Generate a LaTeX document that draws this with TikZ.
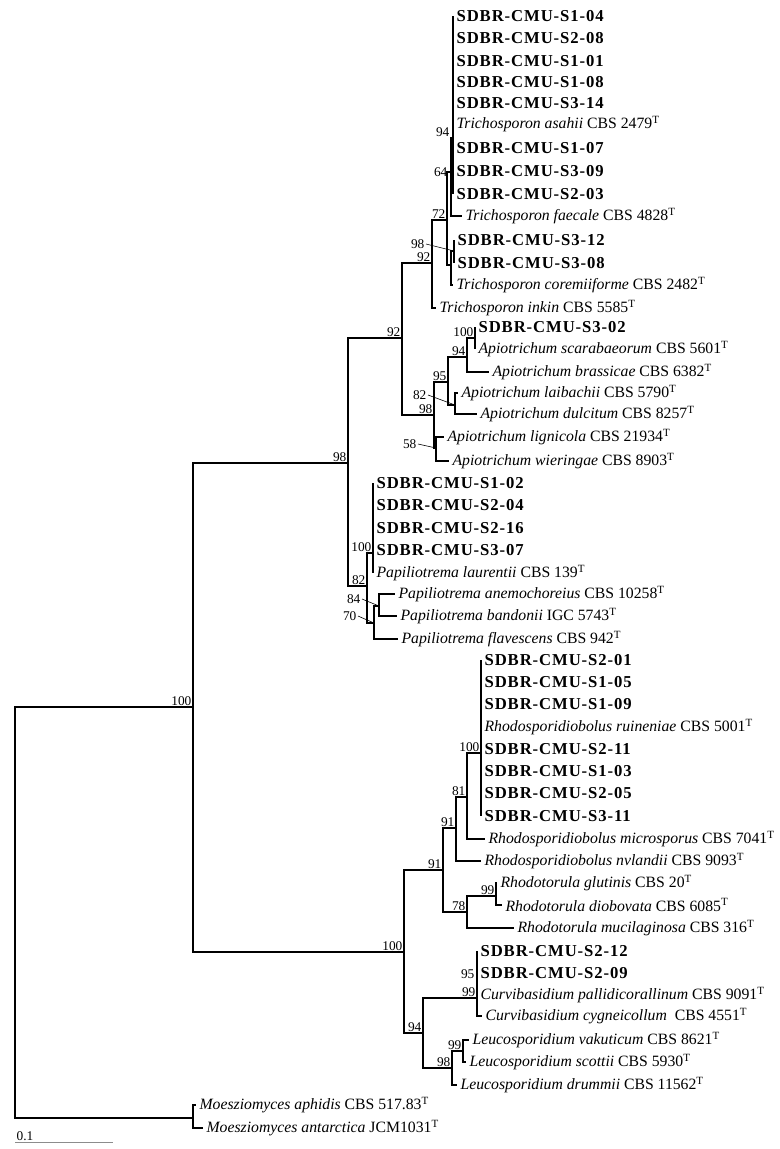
\documentclass[tikz,border=0pt]{standalone}
\usepackage{fontspec}
\setmainfont{Liberation Serif}
\newfontfamily\isofont[LetterSpace=5.5]{Liberation Serif}
\def\sp#1#2{\textit{#1} #2\textsuperscript{T}}
\def\iso#1{{\isofont\fontsize{12.5}{13}\selectfont\bfseries SDBR-CMU-#1}}

\begin{document}
\begin{tikzpicture}[x=0.75pt,y=-0.75pt,font=\fontsize{11.8}{13}\selectfont,
  br/.style={line width=0.9pt},
  thk/.style={line width=1.8pt},
  lf/.style={anchor=west,inner sep=2.5pt},
  bs/.style={font=\fontsize{10}{11}\selectfont,inner sep=1pt,anchor=south east},
  ld/.style={line width=0.45pt}]
  \useasboundingbox (0,0) rectangle (780,1149);

  % internal nodes
  \coordinate (r) at (15,912);
  \coordinate (ing) at (193,707);
  \coordinate (moe) at (193,1118);
  \coordinate (n98a) at (348,463);
  \coordinate (n92a) at (402,338);
  \coordinate (n92b) at (432,263);
  \coordinate (n72) at (447,220);
  \coordinate (n64) at (451,172);
  \coordinate (n94a) at (453,138);
  \coordinate (n3) at (451,265);
  \coordinate (n98c) at (454,251);
  \coordinate (n98b) at (434,415);
  \coordinate (n95) at (448,382);
  \coordinate (n94b) at (467,357);
  \coordinate (n100b) at (475,338);
  \coordinate (n82b) at (455,405);
  \coordinate (n58) at (436,448);
  \coordinate (n82a) at (367,586);
  \coordinate (n100a) at (373,553);
  \coordinate (n70) at (374,623);
  \coordinate (n84) at (379,606);
  \coordinate (n100c) at (404,952);
  \coordinate (n91a) at (443,870);
  \coordinate (n91b) at (456,828);
  \coordinate (n81) at (467,797);
  \coordinate (n100d) at (481,753);
  \coordinate (n78) at (467,912);
  \coordinate (n99a) at (496,896);
  \coordinate (n94c) at (423,1033);
  \coordinate (n99b) at (477,998);
  \coordinate (n98d) at (452,1068);
  \coordinate (n99c) at (463,1051);

  % Trichosporon
  \node[lf] (t1) at (453,16) {\iso{S1-04}};
  \node[lf] (t2) at (453,38) {\iso{S2-08}};
  \node[lf] (t3) at (453,61) {\iso{S1-01}};
  \node[lf] (t4) at (453,82) {\iso{S1-08}};
  \node[lf] (t5) at (453,103) {\iso{S3-14}};
  \node[lf] (t6) at (453,124) {\sp{Trichosporon asahii}{CBS 2479}};
  \node[lf] (t7) at (453,148) {\iso{S1-07}};
  \node[lf] (t8) at (453,171) {\iso{S3-09}};
  \node[lf] (t9) at (453,194) {\iso{S2-03}};
  \node[lf] (tfae) at (462,216) {\sp{Trichosporon faecale}{CBS 4828}};
  \node[lf] (t10) at (454,240) {\iso{S3-12}};
  \node[lf] (t11) at (454,263) {\iso{S3-08}};
  \node[lf] (tcor) at (453,285) {\sp{Trichosporon coremiiforme}{CBS 2482}};
  \node[lf] (tink) at (436,308) {\sp{Trichosporon inkin}{CBS 5585}};
  % Apiotrichum
  \node[lf] (a1) at (475,327) {\iso{S3-02}};
  \node[lf] (asca) at (475,349) {\sp{Apiotrichum scarabaeorum}{CBS 5601}};
  \node[lf] (abra) at (489,372) {\sp{Apiotrichum brassicae}{CBS 6382}};
  \node[lf] (alai) at (458,393) {\sp{Apiotrichum laibachii}{CBS 5790}};
  \node[lf] (adul) at (477,414) {\sp{Apiotrichum dulcitum}{CBS 8257}};
  \node[lf] (alig) at (444,437) {\sp{Apiotrichum lignicola}{CBS 21934}};
  \node[lf] (awie) at (449,461) {\sp{Apiotrichum wieringae}{CBS 8903}};
  % Papiliotrema
  \node[lf] (p1) at (373,483) {\iso{S1-02}};
  \node[lf] (p2) at (373,505) {\iso{S2-04}};
  \node[lf] (p3) at (373,528) {\iso{S2-16}};
  \node[lf] (p4) at (373,550) {\iso{S3-07}};
  \node[lf] (plau) at (373,573) {\sp{Papiliotrema laurentii}{CBS 139}};
  \node[lf] (pane) at (395,594) {\sp{Papiliotrema anemochoreius}{CBS 10258}};
  \node[lf] (pban) at (397,616) {\sp{Papiliotrema bandonii}{IGC 5743}};
  \node[lf] (pfla) at (398,639) {\sp{Papiliotrema flavescens}{CBS 942}};
  % Rhodosporidiobolus
  \node[lf] (r1) at (481,660) {\iso{S2-01}};
  \node[lf] (r2) at (481,682) {\iso{S1-05}};
  \node[lf] (r3) at (481,704) {\iso{S1-09}};
  \node[lf] (rrui) at (481,727) {\sp{Rhodosporidiobolus ruineniae}{CBS 5001}};
  \node[lf] (r4) at (481,749) {\iso{S2-11}};
  \node[lf] (r5) at (481,771) {\iso{S1-03}};
  \node[lf] (r6) at (481,793) {\iso{S2-05}};
  \node[lf] (r7) at (481,816) {\iso{S3-11}};
  \node[lf] (rmic) at (485,839) {\sp{Rhodosporidiobolus microsporus}{CBS 7041}};
  \node[lf] (rnyl) at (481,861) {\sp{Rhodosporidiobolus nvlandii}{CBS 9093}};
  % Rhodotorula
  \node[lf] (rglu) at (497,883) {\sp{Rhodotorula glutinis}{CBS 20}};
  \node[lf] (rdio) at (502,905) {\sp{Rhodotorula diobovata}{CBS 6085}};
  \node[lf] (rmuc) at (514,928) {\sp{Rhodotorula mucilaginosa}{CBS 316}};
  % Curvibasidium
  \node[lf] (c1) at (477,951) {\iso{S2-12}};
  \node[lf] (c2) at (477,973) {\iso{S2-09}};
  \node[lf] (cpal) at (477,995) {\sp{Curvibasidium pallidicorallinum}{CBS 9091}};
  \node[lf] (ccyg) at (482,1016) {\textit{Curvibasidium cygneicollum}\ \ CBS 4551\textsuperscript{T}};
  % Leucosporidium
  \node[lf] (lvak) at (469,1040) {\sp{Leucosporidium vakuticum}{CBS 8621}};
  \node[lf] (lsco) at (466,1062) {\sp{Leucosporidium scottii}{CBS 5930}};
  \node[lf] (ldru) at (457,1085) {\sp{Leucosporidium drummii}{CBS 11562}};
  % outgroup
  \node[lf] (maph) at (196,1105) {\sp{Moesziomyces aphidis}{CBS 517.83}};
  \node[lf] (mant) at (203,1128) {\sp{Moesziomyces antarctica}{JCM1031}};

  % branches
  \draw[br] (r) |- (ing) (r) |- (moe);
  \draw[br] (moe) |- (maph.west) (moe) |- (mant.west);
  \draw[br] (ing) |- (n98a) (ing) |- (n100c);
  \draw[br] (n98a) |- (n92a) (n98a) |- (n82a);
  \draw[br] (n92a) |- (n92b) (n92a) |- (n98b);
  \draw[br] (n92b) |- (n72) (n92b) |- (tink.west);
  \draw[br] (n72) |- (n64) (n72) |- (n3);
  \draw[br] (n64) |- (n94a) (n64) |- (tfae.west);
  \draw[br] (n94a) |- (t1.west) (n94a) |- (t9.west);
  \draw[br] (n3) |- (n98c) (n3) |- (tcor.west);
  \draw[br] (n98c) |- (t10.west) (n98c) |- (t11.west);
  \draw[br] (n98b) |- (n95) (n98b) |- (n58);
  \draw[br] (n95) |- (n94b) (n95) |- (n82b);
  \draw[br] (n94b) |- (n100b) (n94b) |- (abra.west);
  \draw[br] (n100b) |- (a1.west) (n100b) |- (asca.west);
  \draw[br] (n82b) |- (alai.west) (n82b) |- (adul.west);
  \draw[br] (n58) |- (alig.west) (n58) |- (awie.west);
  \draw[br] (n82a) |- (n100a) (n82a) |- (n70);
  \draw[br] (n100a) |- (p1.west) (n100a) |- (plau.west);
  \draw[br] (n70) |- (n84) (n70) |- (pfla.west);
  \draw[br] (n84) |- (pane.west) (n84) |- (pban.west);
  \draw[br] (n100c) |- (n91a) (n100c) |- (n94c);
  \draw[br] (n91a) |- (n91b) (n91a) |- (n78);
  \draw[br] (n91b) |- (n81) (n91b) |- (rnyl.west);
  \draw[br] (n81) |- (n100d) (n81) |- (rmic.west);
  \draw[br] (n100d) |- (r1.west) (n100d) |- (r7.west);
  \draw[br] (n78) |- (n99a) (n78) |- (rmuc.west);
  \draw[br] (n99a) |- (rglu.west) (n99a) |- (rdio.west);
  \draw[br] (n94c) |- (n99b) (n94c) |- (n98d);
  \draw[br] (n99b) |- (c1.west) (n99b) |- (ccyg.west);
  \draw[br] (n98d) |- (n99c) (n98d) |- (ldru.west);
  \draw[br] (n99c) |- (lvak.west) (n99c) |- (lsco.west);
  \draw[thk] (453,140) -- (453,194);
  \draw[thk] (436,437) -- (436,450);
  \draw[thk] (477,980) -- (477,995);

  % bootstrap values
  \node[bs] at (ing) {100};
  \node[bs] at (n98a) {98};
  \node[bs] at (n92a) {92};
  \node[bs] at (n92b) {92};
  \node[bs] at (n72) {72};
  \node[bs] at (449,178) {64};
  \node[bs] at (451,138) {94};
  \node[bs] at (n98b) {98};
  \node[bs] at (n95) {95};
  \node[bs] at (n94b) {94};
  \node[bs] at (n100b) {100};
  \node[bs] at (n100a) {100};
  \node[bs] at (n82a) {82};
  \node[bs] at (n100c) {100};
  \node[bs] at (n91a) {91};
  \node[bs] at (n91b) {91};
  \node[bs] at (n81) {81};
  \node[bs] at (n100d) {100};
  \node[bs] at (n78) {78};
  \node[bs] at (n99a) {99};
  \node[bs] at (n94c) {94};
  \node[bs] at (n99b) {99};
  \node[bs] at (476,980) {95};
  \node[bs] at (n98d) {98};
  \node[bs] at (n99c) {99};
  \node[bs,anchor=east] (b98c) at (426,244) {98};
  \node[bs,anchor=east] (b82b) at (428,395) {82};
  \node[bs,anchor=east] (b58) at (418,444) {58};
  \node[bs,anchor=east] (b84) at (362,599) {84};
  \node[bs,anchor=east] (b70) at (358,616) {70};
  \draw[ld] (b98c.east) -- (n98c);
  \draw[ld] (b82b.east) -- (n82b);
  \draw[ld] (b58.east) -- (n58);
  \draw[ld] (b84.east) -- (n84);
  \draw[ld] (b70.east) -- (n70);

  % scale bar
  \coordinate (sb1) at (15,1142);
  \coordinate (sb2) at (113,1142);
  \draw[black!45,line width=0.6pt] (sb1) -- (sb2);
  \node[anchor=south west,inner sep=1pt,font=\fontsize{10}{11}\selectfont] (sc) at (sb1) {0.1};
\end{tikzpicture}
\end{document}
